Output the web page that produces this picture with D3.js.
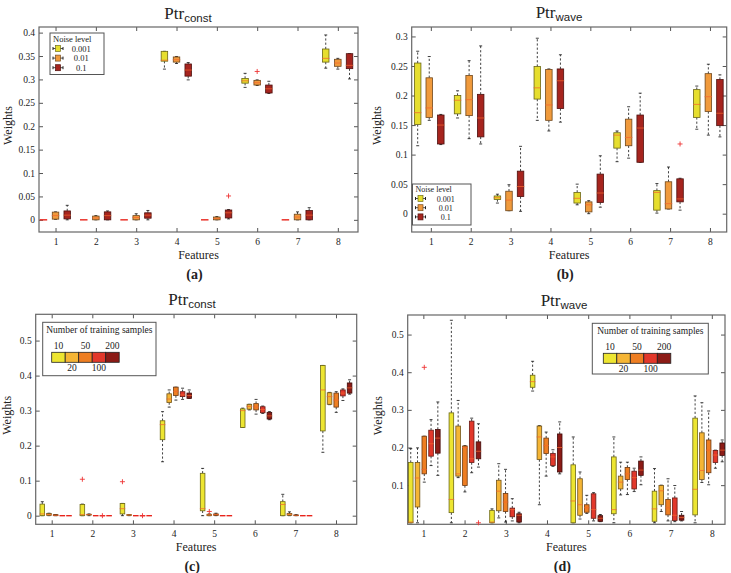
<!DOCTYPE html>
<html>
<head>
<meta charset="utf-8">
<script src="https://cdn.jsdelivr.net/npm/d3@7"></script>
<style>
  body { margin: 0; background: #fff; }
  svg { display: block; }
  text { font-family: "Liberation Serif", "DejaVu Serif", serif; fill: #222; }
</style>
</head>
<body>
<svg width="731" height="573"></svg>
<script>
const features = [1, 2, 3, 4, 5, 6, 7, 8];
const noiseLevels = ['0.001', '0.01', '0.1'];
const sampleSizes = ['10', '20', '50', '100', '200'];
const noiseColors = ['#e6de2e', '#f09a3c', '#a6241e'];
const sampleColors = ['#ede531', '#f5b535', '#ee7e22', '#e2382b', '#8c1b16'];

// each box: [lower whisker, q1, median, q3, upper whisker], per feature, per series
const constNoise = [
  [[0, 0, 0, 0, 0], [0.001, 0.0015, 0.009, 0.0165, 0.017], [0, 0.002, 0.01, 0.019, 0.031]],
  [[0, 0, 0, 0, 0], [0, 0, 0.004, 0.008, 0.009], [0, 0, 0.009, 0.017, 0.019]],
  [[0, 0, 0, 0, 0], [0, 0, 0.005, 0.009, 0.013], [0, 0.0035, 0.01, 0.015, 0.02]],
  [[0.322, 0.339, 0.341, 0.36, 0.36], [0.334, 0.337, 0.342, 0.348, 0.349], [0.299, 0.307, 0.32, 0.333, 0.336]],
  [[0, 0, 0, 0, 0], [0, 0, 0.003, 0.006, 0.007], [0.002, 0.004, 0.015, 0.021, 0.022]],
  [[0.283, 0.292, 0.297, 0.302, 0.313], [0.287, 0.288, 0.293, 0.298, 0.299], [0.27, 0.271, 0.28, 0.288, 0.296]],
  [[0, 0, 0, 0, 0], [0, 0, 0.006, 0.012, 0.017], [0, 0, 0.01, 0.02, 0.026]],
  [[0.324, 0.337, 0.345, 0.365, 0.395], [0.322, 0.328, 0.335, 0.343, 0.345], [0.301, 0.323, 0.33, 0.355, 0.355]]
];
const constNoiseOut = [[5, 2, 0.051], [6, 1, 0.317]];

const waveNoise = [
  [[0.115, 0.151, 0.171, 0.255, 0.275], [0.158, 0.163, 0.179, 0.23, 0.266], [0.117, 0.118, 0.15, 0.167, 0.168]],
  [[0.162, 0.169, 0.192, 0.2, 0.208], [0.127, 0.166, 0.193, 0.234, 0.259], [0.118, 0.13, 0.162, 0.202, 0.284]],
  [[0.018, 0.024, 0.027, 0.03, 0.033], [0.005, 0.005, 0.023, 0.038, 0.049], [0.004, 0.029, 0.046, 0.072, 0.114]],
  [[0.158, 0.194, 0.213, 0.249, 0.297], [0.14, 0.158, 0.184, 0.244, 0.245], [0.155, 0.178, 0.225, 0.245, 0.269]],
  [[0.015, 0.018, 0.026, 0.036, 0.05], [0, 0.003, 0.015, 0.02, 0.022], [0.011, 0.019, 0.035, 0.067, 0.098]],
  [[0.088, 0.111, 0.133, 0.137, 0.14], [0.094, 0.115, 0.129, 0.16, 0.181], [0.087, 0.087, 0.145, 0.167, 0.204]],
  [[0.001, 0.006, 0.036, 0.039, 0.051], [0.008, 0.008, 0.017, 0.054, 0.079], [0.006, 0.02, 0.025, 0.059, 0.06]],
  [[0.143, 0.163, 0.185, 0.21, 0.216], [0.133, 0.173, 0.198, 0.237, 0.253], [0.13, 0.149, 0.17, 0.227, 0.235]]
];
const waveNoiseOut = [[7, 2, 0.118]];

const constSamples = [
  [[0, 0, 0.005, 0.033, 0.04], [0, 0.001, 0.003, 0.006, 0.007], [0, 0, 0.001, 0.003, 0.003], [0, 0, 0, 0, 0], [0, 0, 0, 0, 0]],
  [[0, 0, 0.003, 0.032, 0.033], [0, 0.002, 0.003, 0.004, 0.005], [0, 0, 0, 0, 0], [0, 0, 0, 0, 0], [0, 0, 0, 0, 0]],
  [[0, 0.005, 0.02, 0.035, 0.035], [0, 0.001, 0.002, 0.003, 0.003], [0, 0, 0, 0, 0], [0, 0, 0, 0, 0], [0, 0, 0, 0, 0]],
  [[0.154, 0.217, 0.26, 0.271, 0.297], [0.31, 0.323, 0.333, 0.348, 0.359], [0.33, 0.343, 0.355, 0.367, 0.367], [0.332, 0.34, 0.345, 0.354, 0.364], [0.335, 0.335, 0.343, 0.35, 0.359]],
  [[0, 0.014, 0.02, 0.121, 0.135], [0, 0, 0.002, 0.004, 0.005], [0, 0.001, 0.003, 0.005, 0.007], [0, 0, 0, 0, 0], [0, 0, 0, 0, 0]],
  [[0.252, 0.252, 0.3, 0.305, 0.307], [0.302, 0.304, 0.312, 0.318, 0.318], [0.29, 0.302, 0.31, 0.32, 0.332], [0.292, 0.294, 0.303, 0.311, 0.313], [0.274, 0.276, 0.285, 0.295, 0.297]],
  [[0, 0, 0.032, 0.04, 0.061], [0, 0.001, 0.004, 0.006, 0.011], [0, 0, 0.001, 0.002, 0.003], [0, 0, 0, 0, 0], [0, 0, 0, 0, 0]],
  [[0.181, 0.242, 0.359, 0.429, 0.429], [0.317, 0.318, 0.34, 0.351, 0.352], [0.295, 0.31, 0.33, 0.35, 0.354], [0.329, 0.342, 0.35, 0.359, 0.362], [0.347, 0.35, 0.365, 0.379, 0.388]]
];
const constSamplesOut = [[2, 0, 0.104], [2, 3, 0], [3, 0, 0.097], [3, 3, 0], [5, 1, 0.012]];

const waveSamples = [
  [[0, 0, 0.002, 0.16, 0.197], [0, 0.042, 0.119, 0.16, 0.199], [0.108, 0.13, 0.142, 0.23, 0.23], [0.152, 0.177, 0.21, 0.246, 0.274], [0.126, 0.185, 0.225, 0.248, 0.321]],
  [[0, 0.027, 0.062, 0.292, 0.538], [0.12, 0.124, 0.13, 0.257, 0.325], [0.082, 0.099, 0.2, 0.204, 0.205], [0.133, 0.16, 0.17, 0.27, 0.278], [0.148, 0.17, 0.19, 0.215, 0.263]],
  [[0, 0, 0.002, 0.033, 0.037], [0.013, 0.032, 0.084, 0.113, 0.157], [0.002, 0.03, 0.055, 0.078, 0.142], [0.005, 0.016, 0.035, 0.039, 0.064], [0, 0.002, 0.02, 0.024, 0.028]],
  [[0.35, 0.36, 0.375, 0.392, 0.429], [0.048, 0.168, 0.228, 0.257, 0.258], [0.124, 0.184, 0.205, 0.225, 0.241], [0.15, 0.152, 0.175, 0.184, 0.194], [0.13, 0.135, 0.2, 0.236, 0.268]],
  [[0, 0, 0.058, 0.154, 0.228], [0.01, 0.02, 0.048, 0.117, 0.135], [0.025, 0.028, 0.04, 0.048, 0.073], [0.005, 0.012, 0.035, 0.077, 0.08], [0.003, 0.004, 0.012, 0.019, 0.022]],
  [[0, 0.024, 0.035, 0.175, 0.228], [0.074, 0.09, 0.108, 0.124, 0.161], [0.075, 0.115, 0.13, 0.147, 0.161], [0.083, 0.09, 0.12, 0.137, 0.145], [0.101, 0.126, 0.14, 0.164, 0.175]],
  [[0, 0.004, 0.037, 0.084, 0.144], [0.03, 0.048, 0.085, 0.099, 0.1], [0.005, 0.021, 0.04, 0.062, 0.117], [0.003, 0.006, 0.02, 0.066, 0.099], [0.005, 0.007, 0.014, 0.02, 0.03]],
  [[0, 0.021, 0.089, 0.278, 0.337], [0.107, 0.115, 0.139, 0.239, 0.319], [0.101, 0.133, 0.193, 0.22, 0.297], [0.145, 0.16, 0.18, 0.192, 0.193], [0.162, 0.179, 0.193, 0.212, 0.22]]
];
const waveSamplesOut = [[1, 2, 0.413], [2, 4, 0]];

const svg = d3.select('svg');
const fmt = d => String(+d.toFixed(2));
const serif = '"Liberation Serif", "Times New Roman", "DejaVu Serif", serif';

const panels = [
  { label: '(a)', sub: 'const', data: constNoise, out: constNoiseOut, colors: noiseColors,
    left: 39, right: 358, top: 27, bottom: 232,
    xDomain: [0.59, 8.5], yDomain: [-0.026, 0.412], yTicks: d3.range(0, 0.401, 0.05),
    pos: (f, s) => f + [-0.3, 0, 0.29][s], boxW: 6.5,
    titleX: 188, titleY: 18.5, weightsX: 12,
    legend: { kind: 'noise', x: 50, y: 33, w: 54, h: 41.5, fs: 8.5, step: 9.6, first: 7 } },
  { label: '(b)', sub: 'wave', data: waveNoise, out: waveNoiseOut, colors: noiseColors,
    left: 411.7, right: 726.7, top: 27, bottom: 232,
    xDomain: [0.52, 8.42], yDomain: [-0.031, 0.316], yTicks: d3.range(0, 0.301, 0.05),
    pos: (f, s) => f + [-0.33, -0.04, 0.25][s], boxW: 6.5,
    titleX: 559, titleY: 17.5, weightsX: 381,
    legend: { kind: 'noise', x: 412.5, y: 184, w: 58.5, h: 41, fs: 8, step: 9.2, first: 6.5 } },
  { label: '(c)', sub: 'const', data: constSamples, out: constSamplesOut, colors: sampleColors,
    left: 35.7, right: 356.7, top: 314.3, bottom: 524.3,
    xDomain: [0.606, 8.51], yDomain: [-0.0246, 0.575], yTicks: d3.range(0, 0.501, 0.1),
    pos: (f, s) => 0.768 + 0.1645 * ((f - 1) * 6 + s), boxW: 4.6,
    titleX: 192, titleY: 305, weightsX: 11,
    legend: { kind: 'samples', x: 42.7, y: 322.3, w: 113.3, h: 53.4, bx: 51.7 } },
  { label: '(d)', sub: 'wave', data: waveSamples, out: waveSamplesOut, colors: sampleColors,
    left: 407.7, right: 725, top: 315, bottom: 524.3,
    xDomain: [0.62, 8.32], yDomain: [-0.004, 0.552], yTicks: d3.range(0.1, 0.501, 0.1),
    pos: (f, s) => 0.694 + 0.1643 * ((f - 1) * 6 + s), boxW: 4.6,
    titleX: 564, titleY: 306, weightsX: 382,
    legend: { kind: 'samples', x: 592.3, y: 323.3, w: 116, h: 50.7, bx: 603.3 } }
];

function drawPanel(p) {
  const x = d3.scaleLinear().domain(p.xDomain).range([p.left, p.right]);
  const y = d3.scaleLinear().domain(p.yDomain).range([p.bottom, p.top]);
  const g = svg.append('g');
  const cx = (p.left + p.right) / 2;
  const cy = (p.top + p.bottom) / 2;

  // axes with inward ticks on all four sides
  const tickStyle = a => {
    a.attr('font-family', null);
    a.select('.domain').remove();
    a.selectAll('.tick line').attr('stroke', '#555');
    a.selectAll('.tick text').style('font-size', '9.5px').attr('fill', '#333');
  };
  g.append('g').attr('transform', `translate(${p.left},0)`)
    .call(d3.axisLeft(y).tickValues(p.yTicks).tickFormat(fmt).tickSizeInner(-4).tickSizeOuter(0).tickPadding(4))
    .call(tickStyle);
  g.append('g').attr('transform', `translate(${p.right},0)`)
    .call(d3.axisRight(y).tickValues(p.yTicks).tickFormat('').tickSizeInner(-4).tickSizeOuter(0))
    .call(tickStyle);
  g.append('g').attr('transform', `translate(0,${p.bottom})`)
    .call(d3.axisBottom(x).tickValues(features).tickFormat(d3.format('d')).tickSizeInner(-4).tickSizeOuter(0).tickPadding(6))
    .call(tickStyle);
  g.append('g').attr('transform', `translate(0,${p.top})`)
    .call(d3.axisTop(x).tickValues(features).tickFormat('').tickSizeInner(-4).tickSizeOuter(0))
    .call(tickStyle);

  g.append('rect')
    .attr('x', p.left).attr('y', p.top)
    .attr('width', p.right - p.left).attr('height', p.bottom - p.top)
    .attr('fill', 'none').attr('stroke', '#666').attr('stroke-width', 1.2);

  // boxes
  const boxes = p.data.flatMap((row, i) => row.map((v, s) => ({ f: features[i], s, v })));
  const w = p.boxW;
  const bx = d => x(p.pos(d.f, d.s));
  const bg = g.selectAll('g.box').data(boxes).join('g').attr('class', 'box');
  bg.append('line')
    .attr('x1', bx).attr('x2', bx)
    .attr('y1', d => y(d.v[3])).attr('y2', d => y(d.v[4]))
    .attr('stroke', '#111').attr('stroke-width', 0.8).attr('stroke-dasharray', '2.2,2');
  bg.append('line')
    .attr('x1', bx).attr('x2', bx)
    .attr('y1', d => y(d.v[1])).attr('y2', d => y(d.v[0]))
    .attr('stroke', '#111').attr('stroke-width', 0.8).attr('stroke-dasharray', '2.2,2');
  [0, 4].forEach(k => {
    bg.filter(d => d.v[4] > d.v[0]).append('line')
      .attr('x1', d => bx(d) - 1.5).attr('x2', d => bx(d) + 1.5)
      .attr('y1', d => y(d.v[k])).attr('y2', d => y(d.v[k]))
      .attr('stroke', '#111').attr('stroke-width', 0.8);
  });
  bg.append('rect')
    .attr('x', d => bx(d) - w / 2)
    .attr('y', d => y(d.v[3]))
    .attr('width', w)
    .attr('height', d => y(d.v[1]) - y(d.v[3]))
    .attr('fill', d => p.colors[d.s])
    .attr('stroke', d => d3.color(p.colors[d.s]).darker(2.2))
    .attr('stroke-width', 0.8);
  bg.append('line')
    .attr('x1', d => bx(d) - w / 2 - 0.5).attr('x2', d => bx(d) + w / 2 + 0.5)
    .attr('y1', d => y(d.v[2])).attr('y2', d => y(d.v[2]))
    .attr('stroke', d => d.v[4] === 0 ? '#e8241c' : '#f2642e')
    .attr('stroke-opacity', d => d.v[4] === 0 ? 1 : 0.8)
    .attr('stroke-width', d => d.v[4] === 0 ? 1.4 : 0.9);

  // outliers
  g.selectAll('path.out').data(p.out).join('path')
    .attr('class', 'out')
    .attr('transform', d => `translate(${x(p.pos(d[0], d[1]))},${y(d[2])})`)
    .attr('d', 'M-2.5,0H2.5M0,-2.5V2.5')
    .attr('stroke', '#ee3333').attr('stroke-width', 0.9).attr('fill', 'none');

  // titles and labels
  const t = g.append('text').attr('x', p.titleX).attr('y', p.titleY).attr('text-anchor', 'middle');
  t.append('tspan').text('Ptr').style('font-size', '17px');
  t.append('tspan').text(p.sub).attr('dy', 3)
    .style('font-family', '"Liberation Sans", Arial, sans-serif').style('font-size', '11.5px');
  g.append('text').attr('x', cx).attr('y', p.bottom + 27).attr('text-anchor', 'middle')
    .style('font-size', '12px').text('Features');
  g.append('text').attr('x', cx - 4).attr('y', p.bottom + 47).attr('text-anchor', 'middle')
    .style('font-size', '14px').style('font-weight', 'bold').text(p.label);
  g.append('text').attr('transform', `translate(${p.weightsX},${cy - 4}) rotate(-90)`)
    .attr('text-anchor', 'middle').style('font-size', '12px').text('Weights');

  // legend
  const L = p.legend;
  const lg = g.append('g');
  lg.append('rect').attr('x', L.x).attr('y', L.y).attr('width', L.w).attr('height', L.h)
    .attr('fill', '#fff').attr('stroke', '#555').attr('stroke-width', 1);
  if (L.kind === 'noise') {
    lg.append('text').attr('x', L.x + 3).attr('y', L.y + L.fs)
      .style('font-size', L.fs + 'px').text('Noise level');
    const items = lg.selectAll('g.item').data(noiseLevels).join('g').attr('class', 'item')
      .attr('transform', (d, i) => `translate(${L.x + 8},${L.y + L.fs + L.first + i * L.step})`);
    items.append('line').attr('x1', -5).attr('x2', 5).attr('stroke', '#222').attr('stroke-width', 0.8);
    items.append('line').attr('x1', -5).attr('x2', -5).attr('y1', -1.5).attr('y2', 1.5).attr('stroke', '#222');
    items.append('line').attr('x1', 5).attr('x2', 5).attr('y1', -1.5).attr('y2', 1.5).attr('stroke', '#222');
    items.append('rect').attr('x', -2.5).attr('y', -3).attr('width', 5).attr('height', 6)
      .attr('fill', (d, i) => noiseColors[i]).attr('stroke', (d, i) => d3.color(noiseColors[i]).darker(2)).attr('stroke-width', 0.7);
    items.append('text').attr('x', L.w * 0.43).attr('y', 3).attr('text-anchor', 'middle')
      .style('font-size', L.fs + 'px').text(d => d);
  } else {
    const segW = 13.5;
    lg.append('text').attr('x', L.x + L.w / 2).attr('y', L.y + 10.5).attr('text-anchor', 'middle')
      .style('font-size', '9.5px').text('Number of training samples');
    lg.selectAll('rect.seg').data(sampleSizes).join('rect').attr('class', 'seg')
      .attr('x', (d, i) => L.bx + i * segW).attr('y', L.y + 30).attr('width', segW).attr('height', 10)
      .attr('fill', (d, i) => sampleColors[i]).attr('stroke', '#222').attr('stroke-width', 0.8);
    lg.selectAll('text.sz').data(sampleSizes).join('text').attr('class', 'sz')
      .attr('x', (d, i) => L.bx + (i + 0.5) * segW)
      .attr('y', (d, i) => i % 2 === 0 ? L.y + 27 : L.y + 48.5)
      .attr('text-anchor', 'middle').style('font-size', '9.5px').text(d => d);
  }
}

panels.forEach(drawPanel);
svg.selectAll('text').filter(function () { return !this.style.fontFamily; }).style('font-family', serif);
</script>
</body>
</html>
